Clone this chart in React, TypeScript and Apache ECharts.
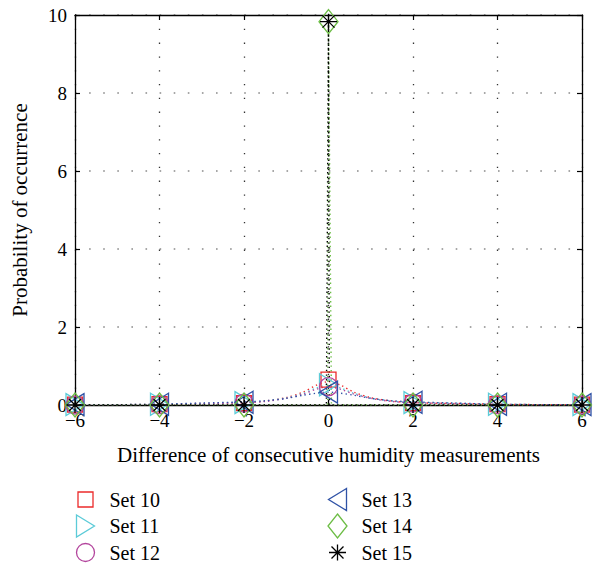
import React, { useEffect, useRef } from "react";
import * as echarts from "echarts";

// ---- data ----
const setNames = ["Set 10", "Set 11", "Set 12", "Set 13", "Set 14", "Set 15"];
const setColors = ["#ec2b2b", "#5ccbd8", "#b3459d", "#2f52a6", "#6cbd45", "#000000"];

const markerX = [-6, -4, -2, 0, 2, 4, 6];
const set10Markers = [0.01, 0.02, 0.05, 0.65, 0.05, 0.02, 0.01];
const set11Markers = [0.01, 0.02, 0.06, 0.52, 0.06, 0.02, 0.01];
const set12Markers = [0.0, 0.01, 0.05, 0.47, 0.05, 0.01, 0.0];
const set13Markers = [0.01, 0.02, 0.07, 0.33, 0.07, 0.02, 0.01];
const set14Markers = [0, 0, 0, 9.83, 0, 0, 0];
const set15Markers = [0, 0, 0, 9.83, 0, 0, 0];

const curveX = [-6, -5, -4, -3, -2, -1.5, -1, -0.6, -0.3, 0, 0.3, 0.6, 1, 1.5, 2, 3, 4, 5, 6];
const set10Curve = [0.01, 0.01, 0.02, 0.04, 0.06, 0.1, 0.19, 0.33, 0.5, 0.6, 0.5, 0.33, 0.19, 0.1, 0.06, 0.04, 0.02, 0.01, 0.01];
const set11Curve = [0.01, 0.01, 0.02, 0.04, 0.07, 0.1, 0.18, 0.3, 0.43, 0.52, 0.43, 0.3, 0.18, 0.1, 0.07, 0.04, 0.02, 0.01, 0.01];
const set12Curve = [0.0, 0.01, 0.01, 0.03, 0.06, 0.09, 0.17, 0.28, 0.4, 0.47, 0.4, 0.28, 0.17, 0.09, 0.06, 0.03, 0.01, 0.01, 0.0];
const set13Curve = [0.01, 0.01, 0.02, 0.05, 0.08, 0.11, 0.17, 0.25, 0.3, 0.33, 0.3, 0.25, 0.17, 0.11, 0.08, 0.05, 0.02, 0.01, 0.01];

const spike14X = [-6, -4, -2, -0.02, 0, 0.07, 2, 4, 6];
const set14Line = [0, 0, 0, 0, 9.83, 0, 0, 0, 0];
const spike15X = [-6, -4, -2, -0.05, 0, 0.02, 2, 4, 6];
const set15Line = [0, 0, 0, 0, 9.83, 0, 0, 0, 0];

// ---- marker shapes (24x24 frame) ----
const shapes = [
  "M4.5,4.5L19.5,4.5L19.5,19.5L4.5,19.5Z",
  "M3,1L21,12L3,23Z",
  "M3,12A9,9 0 1 1 21,12A9,9 0 1 1 3,12Z",
  "M21,1L3,12L21,23Z",
  "M12,0L21.5,12L12,24L2.5,12Z",
  "M12,4L12,20M3.5,12L20.5,12M6,6L18,18M6,18L18,6",
];
const symbolOf = (i: number) => "path://M0,0M24,24" + shapes[i];
const legendIconOf = (i: number) => "path://M0,0M31,24" + shapes[i];

const zip = (xs: number[], ys: number[]) => xs.map((x, i) => [x, ys[i]]);

const lineData = [
  zip(curveX, set10Curve),
  zip(curveX, set11Curve),
  zip(curveX, set12Curve),
  zip(curveX, set13Curve),
  zip(spike14X, set14Line),
  zip(spike15X, set15Line),
];
const markerData = [
  zip(markerX, set10Markers),
  zip(markerX, set11Markers),
  zip(markerX, set12Markers),
  zip(markerX, set13Markers),
  zip(markerX, set14Markers),
  zip(markerX, set15Markers),
];

const FONT = "'Liberation Serif', 'DejaVu Serif', serif";

export default function App() {
  const ref = useRef<HTMLDivElement>(null);
  useEffect(() => {
    if (!ref.current) return;
    const chart = echarts.init(ref.current, null, { renderer: "svg" });
    const series: any[] = [];
    setNames.forEach((name, i) => {
      series.push({
        name,
        type: "line",
        data: lineData[i],
        symbol: "none",
        smooth: i < 4 ? 0.3 : false,
        lineStyle: { color: setColors[i], width: 1.4, type: [1.4, 3.2] },
        z: 2 + i,
      });
    });
    setNames.forEach((name, i) => {
      series.push({
        name,
        type: "scatter",
        data: markerData[i],
        symbol: symbolOf(i),
        symbolSize: 24,
        itemStyle: { color: "none", borderColor: setColors[i], borderWidth: 1.3, opacity: 1 },
        z: 10 + i,
      });
    });
    const legends = setNames.map((name, i) => ({
      orient: "horizontal",
      left: i < 3 ? 71 : 323,
      top: 485 + (i % 3) * 26.5,
      padding: 0,
      itemWidth: 31,
      itemHeight: 24,
      selectedMode: false,
      textStyle: { fontFamily: FONT, fontSize: 20, color: "#000" },
      data: [
        {
          name,
          icon: legendIconOf(i),
          itemStyle: { color: "none", borderColor: setColors[i], borderWidth: 1.3 },
        },
      ],
    }));
    const axisText = { fontFamily: FONT, fontSize: 19, color: "#000" };
    chart.setOption({
      animation: false,
      backgroundColor: "#fff",
      grid: { left: 75, right: 23, top: 15, bottom: 162 },
      legend: legends,
      xAxis: [
        {
          type: "value",
          min: -6,
          max: 6,
          interval: 2,
          position: "bottom",
          name: "Difference of consecutive humidity measurements",
          nameLocation: "middle",
          nameGap: 39,
          nameTextStyle: { fontFamily: FONT, fontSize: 21, color: "#000" },
          axisLine: { show: true, onZero: false, lineStyle: { color: "#000", width: 1.3 } },
          axisTick: { show: true, inside: true, length: 5, lineStyle: { color: "#000", width: 1.2 } },
          axisLabel: {
            ...axisText,
            margin: 6,
            formatter: (v: number) => String(v).replace("-", "\u2212"),
          },
          splitLine: { show: true, lineStyle: { color: "#333", width: 1.3, type: [1.3, 12.5] } },
        },
        {
          type: "value",
          min: -6,
          max: 6,
          interval: 2,
          position: "top",
          axisLine: { show: true, onZero: false, lineStyle: { color: "#000", width: 1.3 } },
          axisTick: { show: true, inside: true, length: 5, lineStyle: { color: "#000", width: 1.2 } },
          axisLabel: { show: false },
          splitLine: { show: false },
        },
      ],
      yAxis: [
        {
          type: "value",
          min: 0,
          max: 10,
          interval: 2,
          position: "left",
          name: "Probability of occurrence",
          nameLocation: "middle",
          nameGap: 45,
          nameTextStyle: { fontFamily: FONT, fontSize: 21, color: "#000" },
          axisLine: { show: true, onZero: false, lineStyle: { color: "#000", width: 1.3 } },
          axisTick: { show: true, inside: true, length: 5, lineStyle: { color: "#000", width: 1.2 } },
          axisLabel: { ...axisText, margin: 8 },
          splitLine: { show: true, lineStyle: { color: "#8a8a8a", width: 1.6, type: [1.6, 12.5] } },
        },
        {
          type: "value",
          min: 0,
          max: 10,
          interval: 2,
          position: "right",
          axisLine: { show: true, onZero: false, lineStyle: { color: "#000", width: 1.3 } },
          axisTick: { show: true, inside: true, length: 5, lineStyle: { color: "#000", width: 1.2 } },
          axisLabel: { show: false },
          splitLine: { show: false },
        },
      ],
      series,
    });
    return () => chart.dispose();
  }, []);
  return (
    <div
      ref={ref}
      style={{ position: "fixed", left: 0, top: 0, width: 605, height: 567 }}
    />
  );
}
